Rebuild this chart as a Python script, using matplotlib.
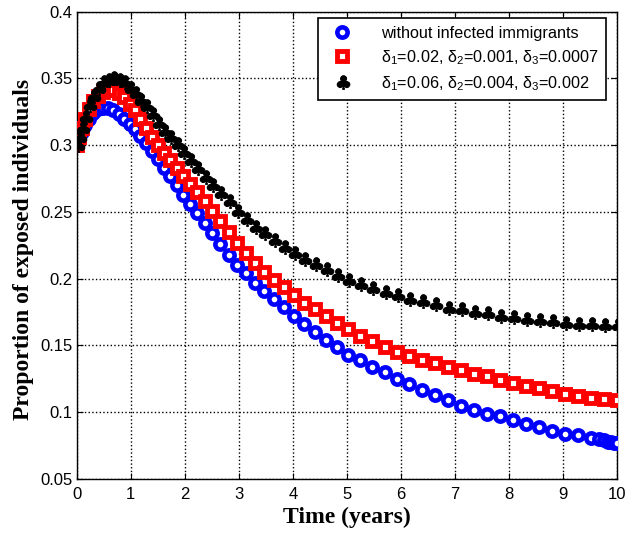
import matplotlib
matplotlib.use("Agg")
import matplotlib.pyplot as plt
from matplotlib.textpath import TextPath
from matplotlib.font_manager import FontProperties
from matplotlib.markers import MarkerStyle
from matplotlib.path import Path

# time samples (years)
t = [0.00, 0.04, 0.09, 0.15, 0.22, 0.30, 0.39, 0.48, 0.58, 0.68, 0.78, 0.88, 0.98,
     1.08, 1.18, 1.29, 1.40, 1.51, 1.62, 1.73, 1.85, 1.97, 2.10, 2.23, 2.37, 2.51,
     2.66, 2.81, 2.97, 3.13, 3.30, 3.47, 3.65, 3.83, 4.02, 4.21, 4.41, 4.61, 4.82,
     5.03, 5.25, 5.47, 5.70, 5.93, 6.16, 6.40, 6.64, 6.88, 7.12, 7.36, 7.60, 7.84,
     8.08, 8.32, 8.56, 8.80, 9.04, 9.28, 9.52, 9.76, 10.00]

t_blue = [0.00, 0.04, 0.09, 0.15, 0.22, 0.30, 0.39, 0.48, 0.58, 0.68, 0.78, 0.88, 0.98,
          1.08, 1.18, 1.29, 1.40, 1.51, 1.62, 1.73, 1.85, 1.97, 2.10, 2.23, 2.37, 2.51,
          2.66, 2.81, 2.97, 3.13, 3.30, 3.47, 3.65, 3.83, 4.02, 4.21, 4.41, 4.61, 4.82,
          5.03, 5.25, 5.47, 5.70, 5.93, 6.16, 6.40, 6.64, 6.88, 7.12, 7.36, 7.60, 7.84,
          8.08, 8.32, 8.56, 8.80, 9.04, 9.28, 9.52, 9.66, 9.76, 9.84, 9.90, 9.95, 10.00]

# exposed proportion, no infected immigrants
e_none = [0.300, 0.305, 0.310, 0.315, 0.320, 0.324, 0.327, 0.328, 0.328, 0.326, 0.323,
          0.320, 0.316, 0.312, 0.307, 0.302, 0.296, 0.290, 0.283, 0.277, 0.270, 0.263,
          0.256, 0.249, 0.242, 0.234, 0.226, 0.218, 0.210, 0.204, 0.197, 0.191, 0.185,
          0.179, 0.172, 0.166, 0.160, 0.154, 0.149, 0.143, 0.139, 0.134, 0.130, 0.125,
          0.121, 0.117, 0.113, 0.109, 0.105, 0.102, 0.099, 0.097, 0.094, 0.091, 0.089,
          0.086, 0.084, 0.083, 0.081, 0.080, 0.079, 0.078, 0.078, 0.077, 0.077]

# delta1=0.02, delta2=0.001, delta3=0.0007
e_low = [0.300, 0.306, 0.313, 0.320, 0.327, 0.333, 0.337, 0.340, 0.341, 0.341, 0.339,
         0.336, 0.331, 0.326, 0.320, 0.313, 0.306, 0.300, 0.294, 0.289, 0.283, 0.277,
         0.271, 0.265, 0.258, 0.251, 0.243, 0.235, 0.227, 0.219, 0.212, 0.205, 0.199,
         0.194, 0.188, 0.182, 0.177, 0.172, 0.167, 0.162, 0.157, 0.153, 0.149, 0.145,
         0.142, 0.139, 0.137, 0.134, 0.132, 0.129, 0.127, 0.124, 0.122, 0.120, 0.118,
         0.116, 0.114, 0.112, 0.111, 0.110, 0.109]

# delta1=0.06, delta2=0.004, delta3=0.002
e_high = [0.300, 0.306, 0.313, 0.321, 0.330, 0.337, 0.343, 0.347, 0.349, 0.350, 0.349,
          0.347, 0.343, 0.339, 0.334, 0.329, 0.323, 0.317, 0.311, 0.306, 0.301, 0.295,
          0.289, 0.283, 0.276, 0.270, 0.264, 0.258, 0.251, 0.245, 0.239, 0.234, 0.229,
          0.224, 0.219, 0.215, 0.211, 0.207, 0.203, 0.199, 0.196, 0.193, 0.190, 0.188,
          0.185, 0.183, 0.181, 0.178, 0.177, 0.175, 0.174, 0.172, 0.171, 0.170, 0.169,
          0.168, 0.167, 0.166, 0.166, 0.165, 0.165]

labels = ["without infected immigrants",
          r"δ$_1$=0.02, δ$_2$=0.001, δ$_3$=0.0007",
          r"δ$_1$=0.06, δ$_2$=0.004, δ$_3$=0.002"]

x_ticks = [0, 1, 2, 3, 4, 5, 6, 7, 8, 9, 10]
y_ticks = [0.05, 0.1, 0.15, 0.2, 0.25, 0.3, 0.35, 0.4]
y_ticklabels = ["0.05", "0.1", "0.15", "0.2", "0.25", "0.3", "0.35", "0.4"]

plt.rcParams["font.family"] = ["Liberation Sans", "DejaVu Sans"]
plt.rcParams["mathtext.fontset"] = "custom"
plt.rcParams["mathtext.rm"] = "Liberation Sans"
plt.rcParams["mathtext.it"] = "Liberation Sans:italic"

# club-shaped filled marker, centred on the data point
glyph = TextPath((0, 0), "\u2663", prop=FontProperties(family="DejaVu Sans"))
verts = glyph.vertices.copy()
cx = (verts[:, 0].min() + verts[:, 0].max()) / 2
cy = (verts[:, 1].min() + verts[:, 1].max()) / 2
verts[:, 0] -= cx
verts[:, 1] -= cy
club = MarkerStyle(Path(verts, glyph.codes))

fig = plt.figure(figsize=(6.34, 5.36), dpi=100)
ax = fig.add_axes([0.121, 0.1063, 0.852, 0.8719])

ax.plot(t_blue, e_none, linestyle="none", marker="o", markersize=7.4,
        markerfacecolor="white", markeredgecolor="#0000ff", markeredgewidth=3.3,
        label=labels[0], zorder=3)
ax.plot(t, e_low, linestyle="none", marker="s", markersize=7.4,
        markerfacecolor="white", markeredgecolor="#ff0000", markeredgewidth=3.5,
        label=labels[1], zorder=4)
ax.plot(t, e_high, linestyle="none", marker=club, markersize=10.5,
        markerfacecolor="black", markeredgecolor="black", markeredgewidth=0.8,
        label=labels[2], zorder=5)

ax.set_xlim(0, 10)
ax.set_ylim(0.05, 0.4)
ax.set_xticks(x_ticks)
ax.set_yticks(y_ticks)
ax.set_yticklabels(y_ticklabels)
ax.tick_params(direction="in", top=True, right=True, labelsize=12, length=4,
               width=0.8)
ax.tick_params(axis="x", pad=6)
ax.tick_params(axis="y", pad=3)
ax.grid(True, color="black", linestyle=":", linewidth=1.0)
ax.set_axisbelow(True)
for s in ax.spines.values():
    s.set_linewidth(1.0)

ax.set_xlabel("Time (years)", family="Liberation Serif", fontweight="bold",
              fontsize=17)
ax.set_ylabel("Proportion of exposed individuals", family="Liberation Serif",
              fontweight="bold", fontsize=17)
ax.xaxis.set_label_coords(0.5, -0.06)
ax.yaxis.set_label_coords(-0.079, 0.492)

leg = ax.legend(loc="upper right", bbox_to_anchor=(0.979, 0.986), fontsize=11.7,
                frameon=True, fancybox=False, edgecolor="black", framealpha=1,
                handletextpad=1.4, borderpad=0.45, labelspacing=0.45,
                handlelength=2.0, borderaxespad=0.0)
leg.get_frame().set_linewidth(1.2)

fig.savefig("out.png", dpi=100)
